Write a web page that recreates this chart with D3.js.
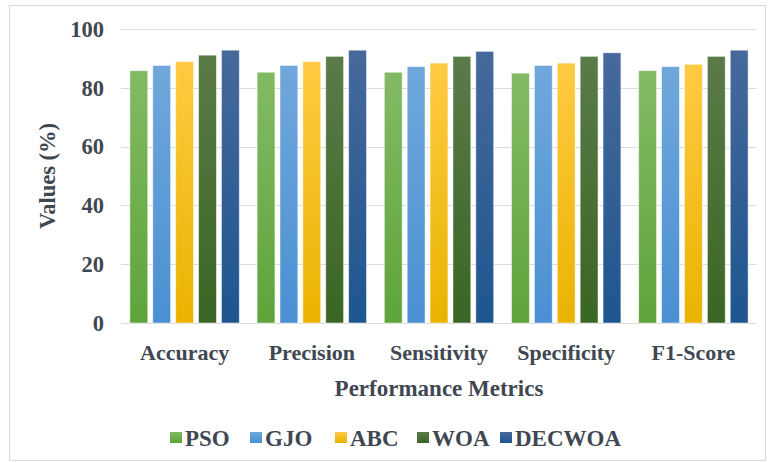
<!DOCTYPE html>
<html>
<head>
<meta charset="utf-8">
<script src="https://cdn.jsdelivr.net/npm/d3@7"></script>
<style>
  html, body { margin: 0; padding: 0; background: #ffffff; }
  svg text { font-family: "Liberation Serif", "Times New Roman", serif; font-weight: bold; fill: #3f4752; }
</style>
</head>
<body>
<svg id="chart" width="768" height="463"></svg>
<script>
// Performance of each optimiser on the five evaluation metrics (%)
const metrics = ["Accuracy", "Precision", "Sensitivity", "Specificity", "F1-Score"];
const seriesNames = ["PSO", "GJO", "ABC", "WOA", "DECWOA"];
const psoValues    = [85.8, 85.3, 85.3, 85.0, 85.8];
const gjoValues    = [87.6, 87.6, 87.2, 87.6, 87.2];
const abcValues    = [88.9, 88.9, 88.4, 88.4, 88.0];
const woaValues    = [91.1, 90.7, 90.7, 90.7, 90.7];
const decwoaValues = [92.8, 92.8, 92.4, 91.9, 92.8];
const yTicks = [0, 20, 40, 60, 80, 100];

const seriesValues = [psoValues, gjoValues, abcValues, woaValues, decwoaValues];
// light (top) and dark (bottom) stops of each series fill
const seriesColors = [
  ["#82ba64", "#5ea43a"],
  ["#70a7db", "#4a90d2"],
  ["#ffca42", "#eab300"],
  ["#5b7b49", "#3a6624"],
  ["#47699c", "#1e568f"]
];

const svg = d3.select("#chart");
const margin = { left: 121, right: 11, top: 29, bottom: 140 };
const W = 768, H = 463;

// outer chart frame
svg.append("rect")
  .attr("x", 9.5).attr("y", 5.5)
  .attr("width", 756).attr("height", 455)
  .attr("fill", "#ffffff").attr("stroke", "#d9d9d9");

const defs = svg.append("defs");
seriesColors.forEach((c, i) => {
  const g = defs.append("linearGradient")
    .attr("id", "grad" + i)
    .attr("x1", 0).attr("y1", 0).attr("x2", 0).attr("y2", 1);
  g.append("stop").attr("offset", "0%").attr("stop-color", c[0]);
  g.append("stop").attr("offset", "100%").attr("stop-color", c[1]);
});

const x0 = d3.scaleBand()
  .domain(metrics)
  .range([margin.left, W - margin.right])
  .paddingInner(0.14)
  .paddingOuter(0.07);

const x1 = d3.scaleBand()
  .domain(seriesNames)
  .range([0, x0.bandwidth()])
  .paddingInner(0.22)
  .paddingOuter(0);

const y = d3.scaleLinear()
  .domain([0, 100])
  .range([H - margin.bottom, margin.top]);

// horizontal gridlines
svg.append("g")
  .selectAll("line")
  .data(yTicks)
  .join("line")
  .attr("x1", margin.left).attr("x2", W - margin.right)
  .attr("y1", d => Math.round(y(d)) + 0.5)
  .attr("y2", d => Math.round(y(d)) + 0.5)
  .attr("stroke", "#dcdcdc")
  .attr("stroke-width", 1);

// y axis labels
const yAxis = d3.axisLeft(y).tickValues(yTicks).tickSize(0).tickPadding(0);
const yg = svg.append("g")
  .attr("transform", `translate(${margin.left - 17},0)`)
  .call(yAxis);
yg.select(".domain").remove();
yg.selectAll("text")
  .attr("font-size", 22.5)
  .attr("font-family", null)
  .attr("fill", null);

// bars
const groups = svg.append("g")
  .selectAll("g")
  .data(metrics)
  .join("g")
  .attr("transform", d => `translate(${x0(d)},0)`);

groups.selectAll("rect")
  .data((m, mi) => seriesNames.map((s, si) => ({ s, si, v: seriesValues[si][mi] })))
  .join("rect")
  .attr("x", d => x1(d.s))
  .attr("y", d => y(d.v))
  .attr("width", x1.bandwidth())
  .attr("height", d => y(0) - y(d.v))
  .attr("fill", d => `url(#grad${d.si})`)
  .attr("stroke", "#ffffff")
  .attr("stroke-opacity", 0.6)
  .attr("stroke-width", 0.8);

// category labels
const xAxis = d3.axisBottom(x0).tickSize(0).tickPadding(0);
const xg = svg.append("g")
  .attr("transform", `translate(0,${y(0) + 37})`)
  .call(xAxis);
xg.select(".domain").remove();
xg.selectAll("text")
  .attr("font-size", 22)
  .attr("font-family", null)
  .attr("fill", null)
  .attr("dy", 0);

// axis titles
svg.append("text")
  .attr("x", 439)
  .attr("y", 396)
  .attr("text-anchor", "middle")
  .attr("font-size", 23)
  .text("Performance Metrics");

svg.append("text")
  .attr("transform", `translate(55,${(y(0) + y(100)) / 2}) rotate(-90)`)
  .attr("text-anchor", "middle")
  .attr("font-size", 22.5)
  .text("Values (%)");

// legend
const legendX = [170, 250, 335, 417, 500];
const legend = svg.append("g")
  .selectAll("g")
  .data(seriesNames)
  .join("g")
  .attr("transform", (d, i) => `translate(${legendX[i]},438)`);

legend.append("rect")
  .attr("x", 0).attr("y", -6)
  .attr("width", 12).attr("height", 11)
  .attr("fill", (d, i) => `url(#grad${i})`);

legend.append("text")
  .attr("x", 15)
  .attr("y", 7.5)
  .attr("font-size", 23)
  .text(d => d);
</script>
</body>
</html>
